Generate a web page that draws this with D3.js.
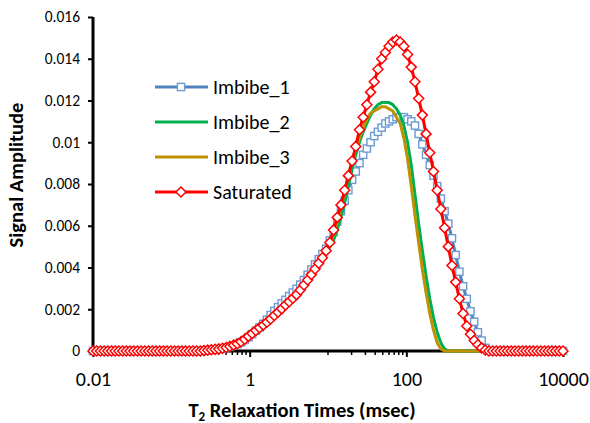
<!DOCTYPE html>
<html lang="en">
<head>
  <meta charset="UTF-8">
  <title>T2 distribution</title>
  <script src="https://cdn.jsdelivr.net/npm/d3@7"></script>
  <style>
    body { margin: 0; background: #fff; }
    text { font-family: Calibri, Carlito, "Open Sans", sans-serif; fill: #000; }
    .tick-label { font-size: 15.5px; }
    .x-label { font-size: 20px; }
    .axis-title { font-size: 20.5px; font-weight: bold; }
    .legend-label { font-size: 20px; }
  </style>
</head>
<body>
<script>
// T2 bins (msec), 128 log-spaced points read along the x axis
var t2Times = [
  0.01, 0.01115, 0.01243, 0.01386, 0.01545, 0.01722, 0.0192, 0.02141, 0.02387, 0.02661,
  0.02967, 0.03308, 0.03688, 0.04113, 0.04585, 0.05112, 0.057, 0.06355, 0.07085, 0.07899,
  0.08807, 0.09818, 0.1095, 0.1221, 0.1361, 0.1517, 0.1692, 0.1886, 0.2103, 0.2345,
  0.2614, 0.2914, 0.3249, 0.3623, 0.4039, 0.4503, 0.5021, 0.5598, 0.6241, 0.6959,
  0.7758, 0.865, 0.9644, 1.075, 1.199, 1.337, 1.49, 1.661, 1.852, 2.065,
  2.303, 2.567, 2.862, 3.191, 3.558, 3.967, 4.423, 4.931, 5.497, 6.129,
  6.834, 7.619, 8.494, 9.471, 10.56, 11.77, 13.13, 14.63, 16.32, 18.19,
  20.28, 22.61, 25.21, 28.11, 31.34, 34.94, 38.95, 43.43, 48.42, 53.99,
  60.19, 67.11, 74.82, 83.42, 93.01, 103.7, 115.6, 128.9, 143.7, 160.2,
  178.6, 199.2, 222.1, 247.6, 276.0, 307.8, 343.1, 382.5, 426.5, 475.5,
  530.2, 591.1, 659.0, 734.8, 819.2, 913.4, 1018, 1135, 1266, 1411,
  1574, 1754, 1956, 2181, 2431, 2711, 3022, 3369, 3757, 4189,
  4670, 5206, 5805, 6472, 7216, 8045, 8970, 10000
];

var imbibe1 = [
  0,0,0,0,0,0,0,0,0,0, 0,0,0,0,0,0,0,0,0,0, 0,0,0,0,0,0,0,0,0,0,
  0.00002, 0.00003, 0.00005, 0.00007, 0.00009, 0.00012, 0.00016, 0.0002, 0.00026, 0.00033,
  0.00042, 0.00053, 0.00066, 0.00081, 0.00097, 0.00113, 0.0013, 0.0015, 0.00172, 0.00192,
  0.0021, 0.00228, 0.00245, 0.00263, 0.0028, 0.00298, 0.00318, 0.0034, 0.00365, 0.0039,
  0.00415, 0.0044, 0.00465, 0.0049, 0.0053, 0.0057, 0.0062, 0.0067, 0.0072, 0.0077,
  0.0082, 0.0086, 0.009, 0.0094, 0.0097, 0.01, 0.0103, 0.0105, 0.0107, 0.0109,
  0.011, 0.0111, 0.0112, 0.0112, 0.0112, 0.0111, 0.011, 0.0108, 0.0104, 0.0099,
  0.0094, 0.0089, 0.0084, 0.0079, 0.0073, 0.0067, 0.0061, 0.0054, 0.0046, 0.0038,
  0.0031, 0.0025, 0.0019, 0.0014, 0.0009, 0.0005, 0.00015,
  0,0,0,0,0,0,0,0,0,0, 0,0,0,0,0,0,0,0,0,0, 0
];

var imbibe2 = [
  0,0,0,0,0,0,0,0,0,0, 0,0,0,0,0,0,0,0,0,0, 0,0,0,0,0,0,0,0,0,0,
  0.00002, 0.00004, 0.00006, 0.00008, 0.0001, 0.00013, 0.00016, 0.0002, 0.00025, 0.00031,
  0.00038, 0.00048, 0.0006, 0.00074, 0.00088, 0.00102, 0.00116, 0.0013, 0.00145, 0.0016,
  0.00176, 0.00192, 0.0021, 0.00227, 0.00245, 0.00264, 0.00285, 0.00308, 0.00333, 0.00359,
  0.00385, 0.00412, 0.0044, 0.0047, 0.005, 0.0053, 0.0058, 0.0064, 0.0071, 0.0079,
  0.0087, 0.0094, 0.01, 0.0105, 0.0109, 0.0113, 0.0116, 0.0118, 0.0119, 0.0119,
  0.0119, 0.0118, 0.0116, 0.0113, 0.0108, 0.01, 0.0089, 0.0075, 0.0061, 0.0048,
  0.0036, 0.0025, 0.0016, 0.0009, 0.0004, 0.0001,
  0,0,0,0,0,0,0,0,0,0, 0,0,0,0,0,0,0,0,0,0, 0,0,0,0,0,0,0,0,0,0, 0,0
];

var imbibe3 = [
  0,0,0,0,0,0,0,0,0,0, 0,0,0,0,0,0,0,0,0,0, 0,0,0,0,0,0,0,0,0,0,
  0.00002, 0.00004, 0.00006, 0.00008, 0.0001, 0.00013, 0.00016, 0.0002, 0.00025, 0.00031,
  0.00038, 0.00048, 0.0006, 0.00074, 0.00088, 0.00102, 0.00116, 0.0013, 0.00145, 0.0016,
  0.00176, 0.00192, 0.0021, 0.00227, 0.00245, 0.00264, 0.00285, 0.00308, 0.00333, 0.00359,
  0.00385, 0.00412, 0.0044, 0.00475, 0.0051, 0.0056, 0.0062, 0.0069, 0.0076, 0.0084,
  0.0091, 0.0097, 0.0102, 0.0107, 0.0111, 0.0114, 0.0115, 0.0116, 0.0117, 0.0117,
  0.0116, 0.0115, 0.0112, 0.0109, 0.0102, 0.0092, 0.0079, 0.0065, 0.0052, 0.0039,
  0.0028, 0.0018, 0.001, 0.0004, 0.0001,
  0,0,0,0,0,0,0,0,0,0, 0,0,0,0,0,0,0,0,0,0, 0,0,0,0,0,0,0,0,0,0, 0,0,0
];

var saturated = [
  0,0,0,0,0,0,0,0,0,0, 0,0,0,0,0,0,0,0,0,0, 0,0,0,0,0,0,0,0,0,0,
  0.00002, 0.00004, 0.00006, 0.00008, 0.0001, 0.00013, 0.00017, 0.00022, 0.00028, 0.00035,
  0.00044, 0.00056, 0.0007, 0.00084, 0.00098, 0.00111, 0.00124, 0.00138, 0.00153, 0.0017,
  0.00186, 0.00202, 0.0022, 0.00236, 0.00253, 0.0027, 0.00292, 0.00316, 0.0034, 0.00366,
  0.00393, 0.0042, 0.00447, 0.0048, 0.0052, 0.0058, 0.0064, 0.007, 0.0077, 0.0084,
  0.0091, 0.0098, 0.0106, 0.0112, 0.0118, 0.0124, 0.0129, 0.0135, 0.014, 0.0143,
  0.0146, 0.0148, 0.0149, 0.0148, 0.0146, 0.0142, 0.0136, 0.0129, 0.0121, 0.0113,
  0.0104, 0.0095, 0.0086, 0.0077, 0.0068, 0.0059, 0.005, 0.0041, 0.0033, 0.0025,
  0.0018, 0.0012, 0.0008, 0.0005, 0.0003, 0.00015, 0.00005,
  0,0,0,0,0,0,0,0,0,0, 0,0,0,0,0,0,0,0,0,0, 0
];

var seriesNames = ["Imbibe_1", "Imbibe_2", "Imbibe_3", "Saturated"];
var xTicks = [0.01, 1, 100, 10000];
var xTickLabels = ["0.01", "1", "100", "10000"];
var yTicks = [0, 0.002, 0.004, 0.006, 0.008, 0.01, 0.012, 0.014, 0.016];

var seriesValues = [imbibe1, imbibe2, imbibe3, saturated];
var colors = ["#4F81BD", "#00B050", "#BF9000", "#FF0000"];
var markers = ["square", null, null, "diamond"];

var svg = d3.select("body").append("svg")
  .attr("width", 590)
  .attr("height", 423);

/* SCALES */
var scaleX = d3.scaleLog().domain([0.01, 10000]).range([93, 563]);
var scaleY = d3.scaleLinear().domain([0, 0.016]).range([351, 17]);

/* AXES */
// minor ticks: 1..9 times the next decade between majors (Excel style)
var minorTicks = [];
xTicks.slice(0, -1).forEach(function(t) {
  for (var m = 1; m <= 9; m++) minorTicks.push(+(t * 10 * m).toPrecision(3));
});

var axisX = d3.axisBottom(scaleX)
  .tickValues(xTicks)
  .tickSize(6)
  .tickFormat(function(d, i) { return xTickLabels[i]; });

var gx = svg.append("g").attr("transform", "translate(0,351)").call(axisX);
gx.select(".domain").attr("stroke", "#000").attr("stroke-width", 3).attr("d", "M93,0H563");
gx.selectAll(".tick line").attr("stroke", "#000").attr("stroke-width", 2);
gx.selectAll(".tick text").attr("class", "x-label").attr("y", 35).attr("dy", null).attr("font-family", null).attr("font-size", null);

svg.append("g").selectAll("line")
  .data(minorTicks)
  .enter().append("line")
  .attr("x1", d => scaleX(d)).attr("x2", d => scaleX(d))
  .attr("y1", 351).attr("y2", 355)
  .attr("stroke", "#000").attr("stroke-width", 1.5);

var axisY = d3.axisLeft(scaleY)
  .tickValues(yTicks)
  .tickSize(5)
  .tickFormat(function(d) { return d === 0 ? "0" : d3.format("")(+d.toFixed(3)); });

var gy = svg.append("g").attr("transform", "translate(93,0)").call(axisY);
gy.select(".domain").attr("stroke", "#000").attr("stroke-width", 3).attr("d", "M0,17V352");
gy.selectAll(".tick line").attr("stroke", "#000").attr("stroke-width", 2);
gy.selectAll(".tick text").attr("class", "tick-label").attr("x", -13).attr("font-family", null).attr("font-size", null);

/* SERIES */
var line = d3.line()
  .x(function(d, i) { return scaleX(t2Times[i]); })
  .y(function(d) { return scaleY(d); });

function drawMarker(sel, type, color) {
  if (type === "square") {
    sel.append("rect")
      .attr("x", -3.6).attr("y", -3.6).attr("width", 7.2).attr("height", 7.2)
      .attr("fill", "#fff").attr("stroke", "#6C9BD2").attr("stroke-width", 1.4);
  } else if (type === "diamond") {
    sel.append("path")
      .attr("d", "M0,-5L5,0L0,5L-5,0Z")
      .attr("fill", "#fff").attr("stroke", color).attr("stroke-width", 1.5);
  }
}

seriesValues.forEach(function(vals, s) {
  var g = svg.append("g");
  g.append("path")
    .attr("d", line(vals))
    .attr("fill", "none")
    .attr("stroke", colors[s])
    .attr("stroke-width", 3)
    .attr("stroke-linejoin", "round");
  if (markers[s]) {
    g.selectAll("g.pt")
      .data(vals)
      .enter().append("g")
      .attr("class", "pt")
      .attr("transform", function(d, i) { return "translate(" + scaleX(t2Times[i]) + "," + scaleY(d) + ")"; })
      .each(function() { drawMarker(d3.select(this), markers[s], colors[s]); });
  }
});

/* LEGEND */
var legend = svg.append("g").selectAll("g")
  .data(seriesNames)
  .enter().append("g")
  .attr("transform", function(d, i) { return "translate(155," + (87 + i * 35) + ")"; });

legend.append("line")
  .attr("x1", 0).attr("x2", 53)
  .attr("stroke", (d, i) => colors[i])
  .attr("stroke-width", 3);

legend.each(function(d, i) {
  if (markers[i]) {
    var m = d3.select(this).append("g").attr("transform", "translate(26,0)");
    drawMarker(m, markers[i], colors[i]);
  }
});

legend.append("text")
  .attr("class", "legend-label")
  .attr("x", 58)
  .attr("dy", "0.35em")
  .text(d => d);

/* TITLES */
var xTitle = svg.append("text")
  .attr("class", "axis-title")
  .attr("x", 302)
  .attr("y", 417)
  .attr("text-anchor", "middle");
xTitle.append("tspan").text("T");
xTitle.append("tspan").attr("font-size", "13px").attr("dy", 4).text("2");
xTitle.append("tspan").attr("dy", -4).text(" Relaxation Times (msec)");

svg.append("text")
  .attr("class", "axis-title")
  .attr("transform", "translate(23,175) rotate(-90)")
  .attr("text-anchor", "middle")
  .text("Signal Amplitude");
</script>
</body>
</html>
